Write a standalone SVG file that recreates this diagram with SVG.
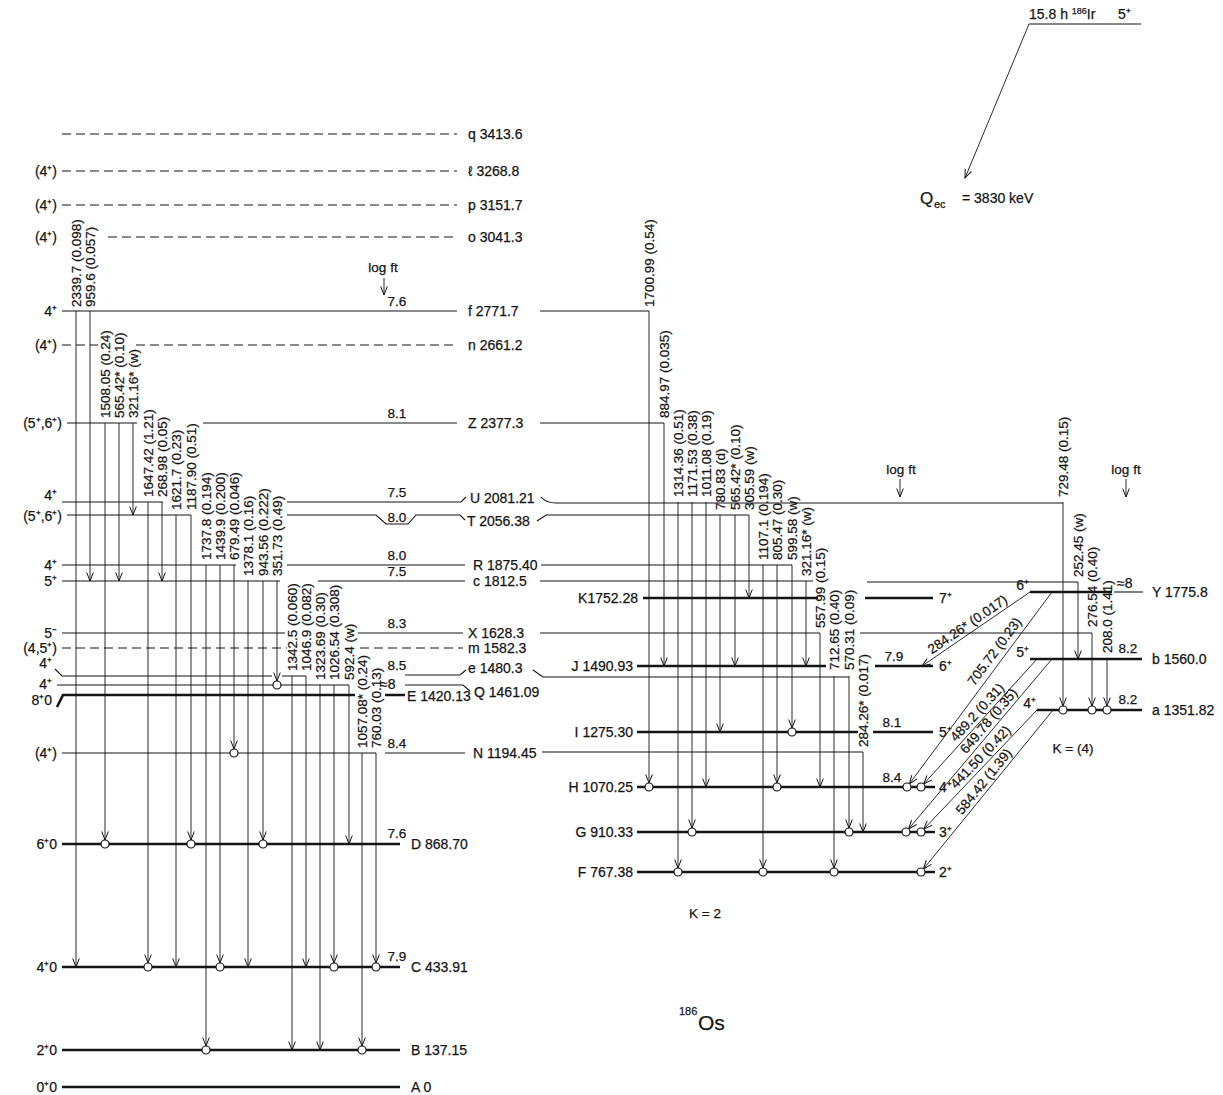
<svg xmlns="http://www.w3.org/2000/svg" width="1223" height="1095" viewBox="0 0 1223 1095">
<defs>
<marker id="ah" viewBox="-10 -5 11 10" refX="0" refY="0" markerWidth="11" markerHeight="10" markerUnits="userSpaceOnUse" orient="auto">
<path d="M-8.5,-3.3 L0,0 L-8.5,3.3" fill="none" stroke="#151515" stroke-width="1"/>
</marker>
<style>
.l{stroke:#151515;stroke-width:1.1;fill:none}
.d{stroke-dasharray:9 5}
.k{stroke-width:2.6}
.g{stroke:#151515;stroke-width:0.9;fill:none;marker-end:url(#ah)}
.c{fill:#fff;stroke:#151515;stroke-width:1.2}
text{font-family:"Liberation Sans",Arial,sans-serif;fill:#151515;stroke:#151515;stroke-width:0.25}
.t{font-size:14px}
.s{font-size:14px;text-anchor:end}
.v{font-size:13.5px}
.f{font-size:13.5px;text-anchor:middle}
</style>
</defs>
<rect width="1223" height="1095" fill="#fff"/>

<g id="levels">
<g id="lv-q"><path class="l d" d="M62,134H457"/><text class="t" x="468" y="139">q 3413.6</text></g>
<g id="lv-l"><text class="s" x="57" y="176">(4⁺)</text><path class="l d" d="M62,171H457"/><text class="t" x="468" y="176">ℓ 3268.8</text></g>
<g id="lv-p"><text class="s" x="57" y="210">(4⁺)</text><path class="l d" d="M62,205H457"/><text class="t" x="468" y="210">p 3151.7</text></g>
<g id="lv-o"><text class="s" x="57" y="242">(4⁺)</text><path class="l d" d="M108,237H457"/><text class="t" x="468" y="242">o 3041.3</text></g>
<g id="lv-f"><text class="s" x="57" y="316">4⁺</text><path class="l" d="M62,311H457M540,311H649"/><text class="f" x="397" y="306">7.6</text><text class="t" x="468" y="316">f 2771.7</text></g>
<g id="lv-n"><text class="s" x="57" y="350">(4⁺)</text><path class="l d" d="M62,345H98M136,345H457"/><text class="t" x="468" y="350">n 2661.2</text></g>
<g id="lv-Z"><text class="s" x="62" y="428">(5⁺,6⁺)</text><path class="l" d="M67,423H137M203,423H457M540,423H664"/><text class="f" x="397" y="418">8.1</text><text class="t" x="468" y="428">Z 2377.3</text></g>
<g id="lv-U"><text class="s" x="57" y="500">4⁺</text><path class="l" d="M62,502H163M287,502H461L466,497M541,497Q546,503 556,503H1063"/><text class="f" x="397" y="497">7.5</text><text class="t" x="470" y="503">U 2081.21</text></g>
<g id="lv-T"><text class="s" x="62" y="521">(5⁺,6⁺)</text><path class="l" d="M67,515H191M287,515H376L386,524H408L416,515H460L465,520M537,521L546,515H749"/><text class="f" x="397" y="522">8.0</text><text class="t" x="467" y="526">T 2056.38</text></g>
<g id="lv-R"><text class="s" x="57" y="570">4⁺</text><path class="l" d="M62,565H236M287,565H465M541,565H792"/><text class="f" x="397" y="560">8.0</text><text class="t" x="473" y="570">R 1875.40</text></g>
<g id="lv-c"><text class="s" x="57" y="586">5⁺</text><path class="l" d="M62,581H280M318,581H465M540,581H813M867,582H1078"/><text class="f" x="397" y="576">7.5</text><text class="t" x="473" y="586">c 1812.5</text></g>
<g id="lv-X"><text class="s" x="57" y="638">5⁻</text><path class="l" d="M62,633H285M358,633H463M540,633H820M860,633H1092"/><text class="f" x="397" y="628">8.3</text><text class="t" x="468" y="638">X 1628.3</text></g>
<g id="lv-m"><text class="s" x="57" y="653">(4,5⁺)</text><path class="l d" d="M62,648H287M360,648H463"/><text class="t" x="468" y="653">m 1582.3</text></g>
<g id="lv-e"><text class="s" x="52" y="668">4⁺</text><path class="l" d="M55,669L62,676H272M282,676H306M405,675H460L466,670M533,670L543,677H849"/><text class="f" x="397" y="670">8.5</text><text class="t" x="468" y="673">e 1480.3</text></g>
<g id="lv-Q"><text class="s" x="52" y="689">4⁺</text><path class="l" d="M57,685H349M405,685H463L470,691"/><text class="t" x="380" y="689" font-size="12.5">≈8</text><text class="t" x="474" y="697">Q 1461.09</text></g>
<g id="lv-E"><text class="s" x="52" y="705">8⁺0</text><path class="l k" d="M57,707L63,695H355M385,695H405"/><text class="t" x="407" y="701">E 1420.13</text></g>
<g id="lv-N"><text class="s" x="57" y="758">(4⁺)</text><path class="l" d="M62,753H376M385,753H465M542,752H863"/><text class="f" x="397" y="748">8.4</text><text class="t" x="473" y="758">N 1194.45</text></g>
<g id="lv-D"><text class="s" x="57" y="849">6⁺0</text><path class="l k" d="M62,844H400"/><text class="f" x="397" y="838" font-size="12.5">7.6</text><text class="t" x="411" y="849">D 868.70</text></g>
<g id="lv-C"><text class="s" x="57" y="972">4⁺0</text><path class="l k" d="M62,967H400"/><text class="f" x="397" y="961" font-size="12.5">7.9</text><text class="t" x="411" y="972">C 433.91</text></g>
<g id="lv-B"><text class="s" x="57" y="1055">2⁺0</text><path class="l k" d="M62,1050H400"/><text class="t" x="411" y="1055">B 137.15</text></g>
<g id="lv-A"><text class="s" x="57" y="1092">0⁺0</text><path class="l k" d="M62,1087H400"/><text class="t" x="411" y="1092">A 0</text></g>

<g id="lv-K"><text class="s" x="638" y="603">K1752.28</text><path class="l k" d="M643,598H818M865,598H933"/><text class="t" x="939" y="603">7⁺</text></g>
<g id="lv-J"><text class="s" x="633" y="671">J 1490.93</text><path class="l k" d="M637,666H826M875,666H933"/><text class="f" x="894" y="661">7.9</text><text class="t" x="939" y="671">6⁺</text></g>
<g id="lv-I"><text class="s" x="633" y="737">I 1275.30</text><path class="l k" d="M637,732H858M873,732H933"/><text class="f" x="892" y="727">8.1</text><text class="t" x="939" y="737">5⁺</text></g>
<g id="lv-H"><text class="s" x="633" y="792">H 1070.25</text><path class="l k" d="M637,787H935"/><text class="f" x="892" y="782">8.4</text><text class="t" x="939" y="792">4⁺</text></g>
<g id="lv-G"><text class="s" x="633" y="837">G 910.33</text><path class="l k" d="M637,832H935"/><text class="t" x="939" y="837">3⁺</text></g>
<g id="lv-F"><text class="s" x="633" y="877">F 767.38</text><path class="l k" d="M637,872H935"/><text class="t" x="939" y="877">2⁺</text></g>

<g id="lv-Y"><text class="s" x="1029" y="590">6⁺</text><path class="l k" d="M1030,592H1112"/><path class="l" d="M1114,592H1143"/><text class="t" x="1117" y="588" font-size="12.5">≈8</text><text class="t" x="1152" y="597">Y 1775.8</text></g>
<g id="lv-b"><text class="s" x="1029" y="657">5⁺</text><path class="l k" d="M1030,659H1142"/><text class="f" x="1128" y="653">8.2</text><text class="t" x="1152" y="664">b 1560.0</text></g>
<g id="lv-a"><text class="s" x="1036" y="708">4⁺</text><path class="l k" d="M1037,710H1142"/><text class="f" x="1128" y="704">8.2</text><text class="t" x="1152" y="715">a 1351.82</text></g>

<g id="parent"><path class="l" d="M1029,24H1141"/><text class="t" x="1029" y="19">15.8 h <tspan font-size="9" dy="-5">186</tspan><tspan dy="5">Ir</tspan></text><text class="t" x="1118" y="19">5⁺</text></g>
<g id="qec"><text x="920" y="204" font-size="17">Q</text><text x="934" y="208" font-size="11">ec</text><text class="t" x="962" y="203">= 3830 keV</text></g>
<g id="notes">
<text class="f" x="383" y="272" font-size="12.5">log ft</text>
<text class="f" x="901" y="474" font-size="12.5">log ft</text>
<text class="f" x="1126" y="474" font-size="12.5">log ft</text>
<text class="f" x="1073" y="753">K = (4)</text>
<text class="f" x="705" y="918">K = 2</text>
<text x="679" y="1015" font-size="11">186</text><text x="698" y="1030" font-size="21">Os</text>
</g>
</g>

<g id="connectors">
<line class="g" x1="1029" y1="24" x2="965" y2="178"/>
<line class="g" x1="384" y1="278" x2="384" y2="295"/>
<line class="g" x1="900" y1="479" x2="900" y2="497"/>
<line class="g" x1="1126" y1="479" x2="1126" y2="497"/>

<g id="t2339"><line class="g" x1="76" y1="311" x2="76" y2="967"/><text class="v" transform="translate(81,307) rotate(-90)">2339.7 (0.098)</text></g>
<g id="t959"><line class="g" x1="90" y1="311" x2="90" y2="581"/><text class="v" transform="translate(95,307) rotate(-90)">959.6 (0.057)</text></g>
<g id="t1508"><line class="g" x1="105" y1="423" x2="105" y2="840"/><circle class="c" cx="105" cy="844" r="4"/><text class="v" transform="translate(110,418) rotate(-90)">1508.05 (0.24)</text></g>
<g id="t565a"><line class="g" x1="119" y1="423" x2="119" y2="581"/><text class="v" transform="translate(124,418) rotate(-90)">565.42* (0.10)</text></g>
<g id="t321a"><line class="g" x1="133" y1="423" x2="133" y2="515"/><text class="v" transform="translate(138,418) rotate(-90)">321.16* (w)</text></g>
<g id="t1647"><line class="g" x1="148" y1="502" x2="148" y2="963"/><circle class="c" cx="148" cy="967" r="4"/><text class="v" transform="translate(153,497) rotate(-90)">1647.42 (1.21)</text></g>
<g id="t268"><line class="g" x1="162" y1="502" x2="162" y2="581"/><text class="v" transform="translate(167,497) rotate(-90)">268.98 (0.05)</text></g>
<g id="t1621"><line class="g" x1="176" y1="515" x2="176" y2="967"/><text class="v" transform="translate(181,510) rotate(-90)">1621.7 (0.23)</text></g>
<g id="t1187"><line class="g" x1="191" y1="515" x2="191" y2="840"/><circle class="c" cx="191" cy="844" r="4"/><text class="v" transform="translate(196,510) rotate(-90)">1187.90 (0.51)</text></g>
<g id="t1737"><line class="g" x1="206" y1="565" x2="206" y2="1046"/><circle class="c" cx="206" cy="1050" r="4"/><text class="v" transform="translate(211,560) rotate(-90)">1737.8 (0.194)</text></g>
<g id="t1439"><line class="g" x1="220" y1="565" x2="220" y2="963"/><circle class="c" cx="220" cy="967" r="4"/><text class="v" transform="translate(225,560) rotate(-90)">1439.9 (0.200)</text></g>
<g id="t679"><line class="g" x1="234" y1="565" x2="234" y2="749"/><circle class="c" cx="234" cy="753" r="4"/><text class="v" transform="translate(239,560) rotate(-90)">679.49 (0.046)</text></g>
<g id="t1378"><line class="g" x1="248" y1="581" x2="248" y2="967"/><text class="v" transform="translate(253,576) rotate(-90)">1378.1 (0.16)</text></g>
<g id="t943"><line class="g" x1="263" y1="581" x2="263" y2="840"/><circle class="c" cx="263" cy="844" r="4"/><text class="v" transform="translate(268,576) rotate(-90)">943.56 (0.222)</text></g>
<g id="t351"><line class="g" x1="277" y1="581" x2="277" y2="681"/><circle class="c" cx="277" cy="685" r="4"/><text class="v" transform="translate(282,576) rotate(-90)">351.73 (0.49)</text></g>
<g id="t1342"><line class="g" x1="292" y1="676" x2="292" y2="1050"/><text class="v" transform="translate(297,671) rotate(-90)">1342.5 (0.060)</text></g>
<g id="t1046"><line class="g" x1="306" y1="676" x2="306" y2="967"/><text class="v" transform="translate(311,671) rotate(-90)">1046.9 (0.082)</text></g>
<g id="t1323"><line class="g" x1="320" y1="685" x2="320" y2="1050"/><text class="v" transform="translate(325,680) rotate(-90)">1323.69 (0.30)</text></g>
<g id="t1026"><line class="g" x1="334" y1="685" x2="334" y2="963"/><circle class="c" cx="334" cy="967" r="4"/><text class="v" transform="translate(339,680) rotate(-90)">1026.54 (0.308)</text></g>
<g id="t592"><line class="g" x1="349" y1="685" x2="349" y2="844"/><text class="v" transform="translate(354,680) rotate(-90)">592.4 (w)</text></g>
<g id="t1057"><line class="g" x1="362" y1="753" x2="362" y2="1046"/><circle class="c" cx="362" cy="1050" r="4"/><text class="v" transform="translate(367,748) rotate(-90)">1057.08* (0.24)</text></g>
<g id="t760"><line class="g" x1="376" y1="753" x2="376" y2="963"/><circle class="c" cx="376" cy="967" r="4"/><text class="v" transform="translate(381,748) rotate(-90)">760.03 (0.13)</text></g>

<g id="t1700"><line class="g" x1="649" y1="311" x2="649" y2="783"/><circle class="c" cx="649" cy="787" r="4"/><text class="v" transform="translate(654,307) rotate(-90)">1700.99 (0.54)</text></g>
<g id="t884"><line class="g" x1="664" y1="423" x2="664" y2="666"/><text class="v" transform="translate(669,418) rotate(-90)">884.97 (0.035)</text></g>
<g id="t1314"><line class="g" x1="678" y1="502" x2="678" y2="868"/><circle class="c" cx="678" cy="872" r="4"/><text class="v" transform="translate(683,497) rotate(-90)">1314.36 (0.51)</text></g>
<g id="t1171"><line class="g" x1="692" y1="502" x2="692" y2="828"/><circle class="c" cx="692" cy="832" r="4"/><text class="v" transform="translate(697,497) rotate(-90)">1171.53 (0.38)</text></g>
<g id="t1011"><line class="g" x1="706" y1="502" x2="706" y2="787"/><text class="v" transform="translate(711,497) rotate(-90)">1011.08 (0.19)</text></g>
<g id="t780"><line class="g" x1="720" y1="515" x2="720" y2="732"/><text class="v" transform="translate(725,510) rotate(-90)">780.83 (d)</text></g>
<g id="t565b"><line class="g" x1="735" y1="515" x2="735" y2="666"/><text class="v" transform="translate(740,510) rotate(-90)">565.42* (0.10)</text></g>
<g id="t305"><line class="g" x1="749" y1="515" x2="749" y2="598"/><text class="v" transform="translate(754,510) rotate(-90)">305.59 (w)</text></g>
<g id="t1107"><line class="g" x1="763" y1="565" x2="763" y2="868"/><circle class="c" cx="763" cy="872" r="4"/><text class="v" transform="translate(768,560) rotate(-90)">1107.1 (0.194)</text></g>
<g id="t805"><line class="g" x1="777" y1="565" x2="777" y2="783"/><circle class="c" cx="777" cy="787" r="4"/><text class="v" transform="translate(782,560) rotate(-90)">805.47 (0.30)</text></g>
<g id="t599"><line class="g" x1="792" y1="565" x2="792" y2="728"/><circle class="c" cx="792" cy="732" r="4"/><text class="v" transform="translate(797,560) rotate(-90)">599.58 (w)</text></g>
<g id="t321b"><line class="g" x1="806" y1="581" x2="806" y2="666"/><text class="v" transform="translate(811,576) rotate(-90)">321.16* (w)</text></g>
<g id="t557"><line class="g" x1="820" y1="633" x2="820" y2="787"/><text class="v" transform="translate(825,628) rotate(-90)">557.99 (0.15)</text></g>
<g id="t712"><line class="g" x1="834" y1="676" x2="834" y2="868"/><circle class="c" cx="834" cy="872" r="4"/><text class="v" transform="translate(839,670) rotate(-90)">712.65 (0.40)</text></g>
<g id="t570"><line class="g" x1="849" y1="676" x2="849" y2="828"/><circle class="c" cx="849" cy="832" r="4"/><text class="v" transform="translate(854,670) rotate(-90)">570.31 (0.09)</text></g>
<g id="t284a"><line class="g" x1="863" y1="752" x2="863" y2="832"/><text class="v" transform="translate(868,747) rotate(-90)">284.26* (0.017)</text></g>
<g id="t729"><line class="g" x1="1063" y1="502" x2="1063" y2="706"/><circle class="c" cx="1063" cy="710" r="4"/><text class="v" transform="translate(1068,497) rotate(-90)">729.48 (0.15)</text></g>
<g id="t252"><line class="g" x1="1078" y1="582" x2="1078" y2="659"/><text class="v" transform="translate(1083,577) rotate(-90)">252.45 (w)</text></g>
<g id="t276"><line class="g" x1="1092" y1="633" x2="1092" y2="706"/><circle class="c" cx="1092" cy="710" r="4"/><text class="v" transform="translate(1097,627) rotate(-90)">276.54 (0.40)</text></g>
<g id="t208"><line class="g" x1="1107" y1="659" x2="1107" y2="706"/><circle class="c" cx="1107" cy="710" r="4"/><text class="v" transform="translate(1112,653) rotate(-90)">208.0 (1.41)</text></g>

<g id="t284b"><line class="g" x1="1030" y1="592" x2="922" y2="666"/><text class="v" font-size="13" transform="translate(931.7,654.5) rotate(-34.4)">284.26* (0.017)</text></g>
<g id="t705"><line class="g" x1="1052" y1="592" x2="909.4" y2="783.8"/><circle class="c" cx="907" cy="787" r="4"/><text class="v" font-size="13" transform="translate(974.3,686.4) rotate(-53.4)">705.72 (0.23)</text></g>
<g id="t489"><line class="g" x1="1037" y1="659" x2="923.7" y2="784"/><circle class="c" cx="921" cy="787" r="4"/><text class="v" font-size="13" transform="translate(956.1,742.3) rotate(-47.8)">489.2 (0.31)</text></g>
<g id="t649"><line class="g" x1="1052" y1="659" x2="908.6" y2="828.9"/><circle class="c" cx="906" cy="832" r="4"/><text class="v" font-size="13" transform="translate(966.2,754.4) rotate(-49.8)">649.78 (0.35)</text></g>
<g id="t441"><line class="g" x1="1037" y1="710" x2="923.8" y2="829.1"/><circle class="c" cx="921" cy="832" r="4"/><text class="v" font-size="13" transform="translate(956.1,789.2) rotate(-46.4)">441.50 (0.42)</text></g>
<g id="t584"><line class="g" x1="1053" y1="710" x2="923.5" y2="868.9"/><circle class="c" cx="921" cy="872" r="4"/><text class="v" font-size="13" transform="translate(961.9,815.5) rotate(-50.8)">584.42 (1.39)</text></g>
</g>
</svg>
